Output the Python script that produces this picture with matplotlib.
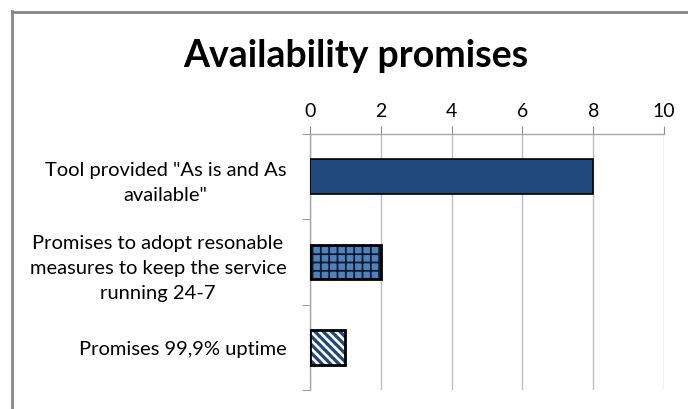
import matplotlib
matplotlib.use("Agg")
import matplotlib.pyplot as plt
from matplotlib.lines import Line2D

categories = ['Tool provided "As is and As\navailable"',
              'Promises to adopt resonable\nmeasures to keep the service\nrunning 24-7',
              'Promises 99,9% uptime']
values = [8, 2, 1]
x_ticks = [0, 2, 4, 6, 8, 10]

plt.rcParams['font.family'] = ['Lato', 'DejaVu Sans']

W, H = 688, 410
fig = plt.figure(figsize=(W / 100, H / 100), dpi=100)
ax = fig.add_axes([310 / W, 1 - 391 / H, (664 - 310) / W, (391 - 135) / H])

ypos = list(range(len(values)))
bh = 0.41
dark = '#1F497D'

# bar 1: solid
ax.barh(ypos[0], values[0], height=bh, color=dark, edgecolor='black', linewidth=1.2, zorder=3)

# bar 2: blue with dark grid
plt.rcParams['hatch.linewidth'] = 1.3
ax.barh(ypos[1], values[1], height=bh, color='#4F81BD', edgecolor='#0d1a2a', hatch='++',
        linewidth=0, zorder=3)
ax.barh(ypos[1], values[1], height=bh, fill=False, edgecolor='black', linewidth=2, zorder=4)

# bar 3: white with diagonal stripes
plt.rcParams['hatch.linewidth'] = 2.3
ax.barh(ypos[2], values[2], height=bh, color='white', edgecolor=dark, hatch='\\\\\\\\',
        linewidth=0, zorder=3)
ax.barh(ypos[2], values[2], height=bh, fill=False, edgecolor='black', linewidth=2, zorder=4)

ax.set_xlim(0, 10)
ax.set_ylim(2.5, -0.5)
ax.set_xticks(x_ticks)
ax.xaxis.tick_top()
ax.tick_params(axis='x', direction='out', length=6, color='#8c8c8c', labelsize=14, pad=5,
               labelcolor='black')
ax.set_yticks(ypos)
ax.set_yticklabels(categories, multialignment='center', linespacing=1.55)
ax.set_yticks([-0.5, 0.5, 1.5, 2.5], minor=True)
ax.tick_params(axis='y', which='major', length=0, labelsize=14.5, pad=17)
ax.tick_params(axis='y', which='minor', direction='out', length=6, color='#8c8c8c')

ax.grid(axis='x', color='#bfbfbf', linewidth=1, zorder=0)
for s in ['right', 'bottom']:
    ax.spines[s].set_visible(False)
for s in ['top', 'left']:
    ax.spines[s].set_color('#a6a6a6')
    ax.spines[s].set_linewidth(1)

fig.text(356 / W, 1 - 56 / H, 'Availability promises', ha='center', va='center',
         fontsize=27, fontweight='bold')

# outer chart frame (cropped on right/bottom)
fig.add_artist(Line2D([12 / W, 12 / W], [0, 1 - 12 / H], color='#868686', lw=2))
fig.add_artist(Line2D([12 / W, 1], [1 - 13 / H, 1 - 13 / H], color='#868686', lw=2))

fig.savefig('out.png', dpi=100)
